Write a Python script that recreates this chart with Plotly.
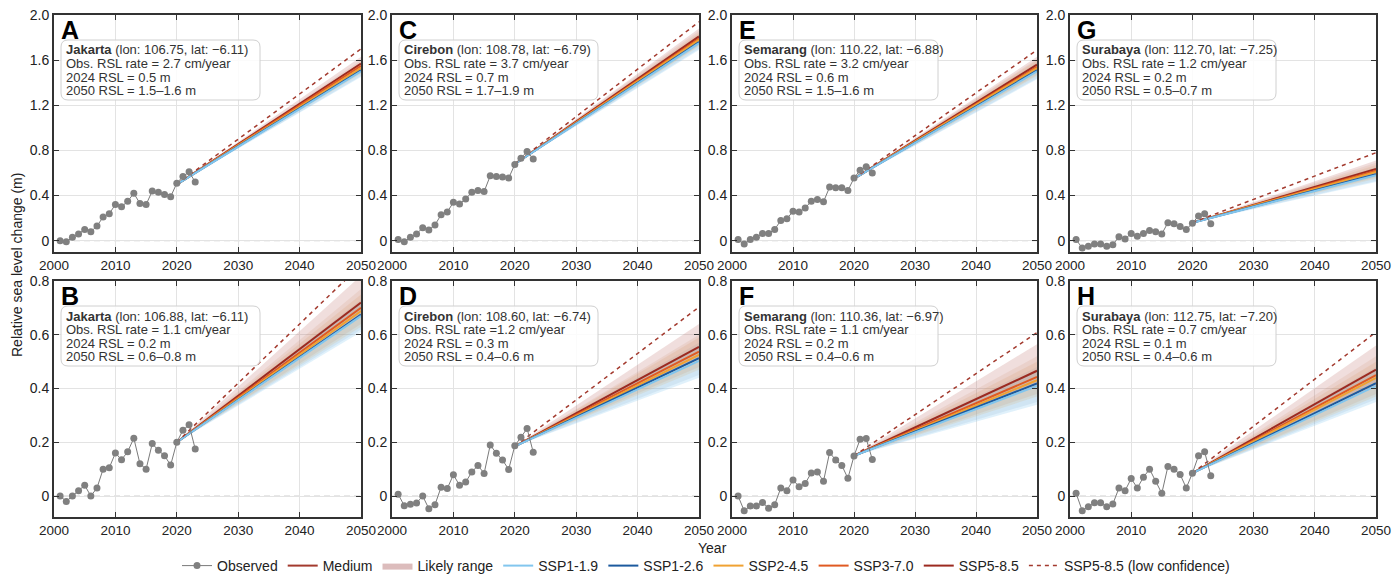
import plotly.graph_objects as go

# ---------------- data ----------------
years_obs = [2001, 2002, 2003, 2004, 2005, 2006, 2007, 2008, 2009, 2010, 2011, 2012,
             2013, 2014, 2015, 2016, 2017, 2018, 2019, 2020, 2021, 2022, 2023]
proj_years = [2020, 2050]
scenarios = ["SSP1-1.9", "SSP1-2.6", "SSP2-4.5", "SSP3-7.0", "SSP5-8.5"]

# Observed relative sea level (m)
obs_A = [0.00, -0.01, 0.03, 0.06, 0.10, 0.08, 0.13, 0.21, 0.24, 0.32, 0.30, 0.35,
         0.42, 0.33, 0.32, 0.44, 0.43, 0.41, 0.39, 0.51, 0.57, 0.61, 0.52]
obs_C = [0.01, -0.01, 0.03, 0.06, 0.115, 0.095, 0.14, 0.23, 0.255, 0.34, 0.325, 0.37,
         0.43, 0.445, 0.435, 0.575, 0.57, 0.565, 0.555, 0.675, 0.73, 0.79, 0.725]
obs_E = [0.01, -0.03, 0.01, 0.03, 0.065, 0.065, 0.10, 0.18, 0.195, 0.26, 0.255, 0.29,
         0.35, 0.365, 0.345, 0.475, 0.47, 0.47, 0.445, 0.555, 0.625, 0.655, 0.60]
obs_G = [0.01, -0.065, -0.05, -0.03, -0.03, -0.05, -0.035, 0.035, 0.015, 0.065, 0.04, 0.065,
         0.09, 0.08, 0.06, 0.16, 0.15, 0.125, 0.10, 0.155, 0.22, 0.24, 0.15]
obs_B = [0.0, -0.02, 0.0, 0.02, 0.04, 0.0, 0.03, 0.10, 0.105, 0.16, 0.135, 0.165,
         0.215, 0.12, 0.10, 0.195, 0.17, 0.15, 0.115, 0.20, 0.245, 0.265, 0.175]
obs_D = [0.007, -0.036, -0.031, -0.026, 0.0, -0.047, -0.032, 0.033, 0.028, 0.079, 0.04, 0.052,
         0.089, 0.114, 0.084, 0.19, 0.159, 0.134, 0.099, 0.187, 0.219, 0.251, 0.163]
obs_F = [0.0, -0.055, -0.037, -0.037, -0.024, -0.045, -0.032, 0.03, 0.02, 0.06, 0.035, 0.047,
         0.086, 0.089, 0.055, 0.162, 0.134, 0.114, 0.066, 0.149, 0.211, 0.214, 0.136]
obs_H = [0.01, -0.055, -0.04, -0.025, -0.025, -0.04, -0.03, 0.03, 0.02, 0.065, 0.03, 0.07,
         0.10, 0.055, 0.01, 0.11, 0.10, 0.08, 0.03, 0.085, 0.15, 0.165, 0.075]

# Projection start (2020) and 2050 values per scenario
start_A, med_A, lo_A, hi_A, lowconf_A = 0.50, [1.50, 1.51, 1.53, 1.55, 1.57], [1.45, 1.46, 1.48, 1.49, 1.52], [1.55, 1.56, 1.58, 1.60, 1.63], 1.70
start_C, med_C, lo_C, hi_C, lowconf_C = 0.68, [1.75, 1.76, 1.78, 1.79, 1.81], [1.69, 1.70, 1.72, 1.73, 1.76], [1.81, 1.82, 1.84, 1.86, 1.88], 1.94
start_E, med_E, lo_E, hi_E, lowconf_E = 0.55, [1.50, 1.51, 1.53, 1.54, 1.56], [1.43, 1.44, 1.46, 1.47, 1.50], [1.57, 1.58, 1.60, 1.61, 1.63], 1.69
start_G, med_G, lo_G, hi_G, lowconf_G = 0.16, [0.58, 0.59, 0.61, 0.62, 0.635], [0.52, 0.53, 0.55, 0.56, 0.58], [0.64, 0.65, 0.67, 0.69, 0.71], 0.78
start_B, med_B, lo_B, hi_B, lowconf_B = 0.20, [0.67, 0.675, 0.688, 0.70, 0.72], [0.61, 0.62, 0.63, 0.64, 0.67], [0.72, 0.73, 0.75, 0.77, 0.82], 0.86
start_D, med_D, lo_D, hi_D, lowconf_D = 0.185, [0.503, 0.513, 0.525, 0.537, 0.555], [0.44, 0.45, 0.47, 0.48, 0.51], [0.56, 0.57, 0.59, 0.60, 0.64], 0.703
start_F, med_F, lo_F, hi_F, lowconf_F = 0.15, [0.41, 0.419, 0.431, 0.443, 0.466], [0.34, 0.35, 0.37, 0.38, 0.41], [0.47, 0.48, 0.50, 0.52, 0.565], 0.608
start_H, med_H, lo_H, hi_H, lowconf_H = 0.085, [0.41, 0.42, 0.44, 0.45, 0.47], [0.35, 0.36, 0.37, 0.38, 0.41], [0.47, 0.48, 0.50, 0.52, 0.56], 0.61

letters = ["A", "C", "E", "G", "B", "D", "F", "H"]
cities = ["Jakarta", "Cirebon", "Semarang", "Surabaya", "Jakarta", "Cirebon", "Semarang", "Surabaya"]
lons = ["106.75", "108.78", "110.22", "112.70", "106.88", "108.60", "110.36", "112.75"]
lats = ["−6.11", "−6.79", "−6.88", "−7.25", "−6.11", "−6.74", "−6.97", "−7.20"]
rate_txt = ["= 2.7", "= 3.7", "= 3.2", "= 1.2", "= 1.1", "=1.2", "= 1.1", "= 0.7"]
rsl2024 = ["0.5", "0.7", "0.6", "0.2", "0.2", "0.3", "0.2", "0.1"]
rsl2050 = ["1.5–1.6", "1.7–1.9", "1.5–1.6", "0.5–0.7", "0.6–0.8", "0.4–0.6", "0.4–0.6", "0.4–0.6"]

top_ticks = [0, 0.4, 0.8, 1.2, 1.6, 2.0]
top_ticktext = ["0", "0.4", "0.8", "1.2", "1.6", "2.0"]
bot_ticks = [0, 0.2, 0.4, 0.6, 0.8]
bot_ticktext = ["0", "0.2", "0.4", "0.6", "0.8"]
x_ticks = [2000, 2010, 2020, 2030, 2040, 2050]

# ---------------- styles ----------------
ssp_colors = ["#82c6ee", "#1c5a9e", "#f0a232", "#e05a22", "#9c2a20"]
band_colors = ["rgba(130,198,238,0.25)", "rgba(28,90,158,0.08)", "rgba(225,170,90,0.16)",
               "rgba(200,120,70,0.12)", "rgba(180,90,85,0.20)"]
obs_color = "#808080"
FONT = "Liberation Sans, Arial, sans-serif"

panels = [
    (obs_A, start_A, med_A, lo_A, hi_A, lowconf_A),
    (obs_C, start_C, med_C, lo_C, hi_C, lowconf_C),
    (obs_E, start_E, med_E, lo_E, hi_E, lowconf_E),
    (obs_G, start_G, med_G, lo_G, hi_G, lowconf_G),
    (obs_B, start_B, med_B, lo_B, hi_B, lowconf_B),
    (obs_D, start_D, med_D, lo_D, hi_D, lowconf_D),
    (obs_F, start_F, med_F, lo_F, hi_F, lowconf_F),
    (obs_H, start_H, med_H, lo_H, hi_H, lowconf_H),
]

# layout geometry (pixels)
W, H = 1399, 578
ML, MR, MT, MB = 54, 23, 15, 61
PW = W - ML - MR
PH = H - MT - MB
col_px = [(54, 361), (392, 699), (732, 1037), (1070, 1376)]
row_px = [(15, 252), (281, 517)]

fig = go.Figure()
layout = {}
annotations = []
shapes = []

for i, (obs, start, med, lo, hi, lowconf) in enumerate(panels):
    r, c = divmod(i, 4)
    n = i + 1
    xa = "x" if n == 1 else f"x{n}"
    ya = "y" if n == 1 else f"y{n}"
    xkey = "xaxis" if n == 1 else f"xaxis{n}"
    ykey = "yaxis" if n == 1 else f"yaxis{n}"
    x0p, x1p = col_px[c]
    y0p, y1p = row_px[r]
    xdom = [(x0p - ML) / PW, (x1p - ML) / PW]
    ydom = [(H - MB - y1p) / PH, (H - MB - y0p) / PH]
    pw, ph = x1p - x0p, y1p - y0p

    layout[xkey] = dict(domain=xdom, anchor=ya, range=[2000, 2050], tickvals=x_ticks,
                        showgrid=True, gridcolor="#e3e3e3", gridwidth=1,
                        showline=True, linecolor="#333", linewidth=2, mirror="ticks",
                        ticks="inside", ticklen=5, tickcolor="#333",
                        tickfont=dict(size=13.5, color="#222", family=FONT), zeroline=False)
    if r == 0:
        yr, tv, tt = [-0.1, 2.0], top_ticks, top_ticktext
    else:
        yr, tv, tt = [-0.078, 0.8], bot_ticks, bot_ticktext
    layout[ykey] = dict(domain=ydom, anchor=xa, range=yr, tickvals=tv, ticktext=tt,
                        showgrid=True, gridcolor="#e3e3e3", gridwidth=1,
                        showline=True, linecolor="#333", linewidth=2, mirror="ticks",
                        ticks="inside", ticklen=5, tickcolor="#333",
                        tickfont=dict(size=14, color="#222", family=FONT), zeroline=False)

    # zero dashed line
    shapes.append(dict(type="line", xref=f"{xa} domain", yref=ya, x0=0, x1=1, y0=0, y1=0,
                       line=dict(color="#cfcfcf", width=1.2, dash="6px,4px"), layer="below"))

    # likely-range bands
    for k in range(5):
        fig.add_trace(go.Scatter(x=[proj_years[0], proj_years[1], proj_years[1], proj_years[0]],
                                 y=[start, hi[k], lo[k], start], fill="toself",
                                 fillcolor=band_colors[k], line=dict(width=0), mode="lines",
                                 hoverinfo="skip", showlegend=False, xaxis=xa, yaxis=ya))
    # median lines (highest scenario drawn first, SSP1-1.9 on top)
    for k in reversed(range(5)):
        fig.add_trace(go.Scatter(x=proj_years, y=[start, med[k]], mode="lines",
                                 line=dict(color=ssp_colors[k], width=2),
                                 name=scenarios[k], showlegend=(i == 0), legendrank=4 + k,
                                 xaxis=xa, yaxis=ya))
    # low-confidence
    fig.add_trace(go.Scatter(x=proj_years, y=[start, lowconf], mode="lines",
                             line=dict(color="#a33a2e", width=1.5, dash="4px,4px"),
                             name="SSP5-8.5 (low confidence)", showlegend=(i == 0), legendrank=9,
                             xaxis=xa, yaxis=ya))
    # observed
    fig.add_trace(go.Scatter(x=years_obs, y=obs, mode="lines+markers",
                             line=dict(color="#7a7a7a", width=1),
                             marker=dict(color=obs_color, size=7),
                             name="Observed", showlegend=(i == 0), legendrank=1,
                             xaxis=xa, yaxis=ya))

    # panel letter
    annotations.append(dict(text=f"<b>{letters[i]}</b>", xref=f"{xa} domain", yref=f"{ya} domain",
                            x=5 / pw, y=1 + 1 / ph, xanchor="left", yanchor="top", showarrow=False,
                            font=dict(size=25, color="#000", family=FONT)))
    # info box
    bx0, bx1 = 7 / pw, 206 / pw
    by1, by0 = 1 - 25 / ph, 1 - 85 / ph
    rx, ry = 7 / pw, 7 / ph
    path = (f"M {bx0+rx},{by1} L {bx1-rx},{by1} Q {bx1},{by1} {bx1},{by1-ry} "
            f"L {bx1},{by0+ry} Q {bx1},{by0} {bx1-rx},{by0} L {bx0+rx},{by0} "
            f"Q {bx0},{by0} {bx0},{by0+ry} L {bx0},{by1-ry} Q {bx0},{by1} {bx0+rx},{by1} Z")
    shapes.append(dict(type="path", path=path, xref=f"{xa} domain", yref=f"{ya} domain",
                       fillcolor="rgba(255,255,255,0.85)", line=dict(color="#d0d0d0", width=1),
                       layer="above"))
    lines = [f"<b>{cities[i]}</b> (lon: {lons[i]}, lat: {lats[i]})",
             f"Obs. RSL rate {rate_txt[i]} cm/year",
             f"2024 RSL = {rsl2024[i]} m",
             f"2050 RSL = {rsl2050[i]} m"]
    for j, t in enumerate(lines):
        annotations.append(dict(text=t, xref=f"{xa} domain", yref=f"{ya} domain",
                                x=10 / pw, y=1 - (35 + 13.5 * j) / ph, xanchor="left",
                                yanchor="middle", showarrow=False,
                                font=dict(size=13, color="#333", family=FONT)))

# legend-only traces
fig.add_trace(go.Scatter(x=[None], y=[None], mode="lines", line=dict(color="#a33a2e", width=2),
                         name="Medium", legendrank=2))
fig.add_trace(go.Scatter(x=[None, None], y=[None, None], fill="toself", fillcolor="#dcbcbc",
                         mode="lines", line=dict(width=0, color="#dcbcbc"),
                         name="Likely range", legendrank=3))

# axis titles
annotations.append(dict(text="Year", xref="paper", yref="paper", x=(712 - ML) / PW,
                        y=-(548 - (H - MB)) / PH,
                        xanchor="center", yanchor="middle", showarrow=False,
                        font=dict(size=14, color="#222", family=FONT)))
annotations.append(dict(text="Relative sea level change (m)", xref="paper", yref="paper",
                        x=(17 - ML) / PW, y=(H - MB - 265) / PH, textangle=-90,
                        xanchor="center", yanchor="middle", showarrow=False,
                        font=dict(size=14, color="#222", family=FONT)))

fig.update_layout(**layout)
fig.update_layout(
    width=W, height=H,
    margin=dict(l=ML, r=MR, t=MT, b=MB, autoexpand=False),
    paper_bgcolor="white", plot_bgcolor="white",
    font=dict(family=FONT, size=14, color="#222"),
    annotations=annotations, shapes=shapes,
    legend=dict(orientation="h", x=(706 - ML) / PW, xanchor="center",
                y=-(566 - (H - MB)) / PH, yanchor="middle",
                font=dict(size=14, color="#222", family=FONT),
                bgcolor="rgba(0,0,0,0)", itemwidth=30, tracegroupgap=0),
)

fig.write_html("out.html")
